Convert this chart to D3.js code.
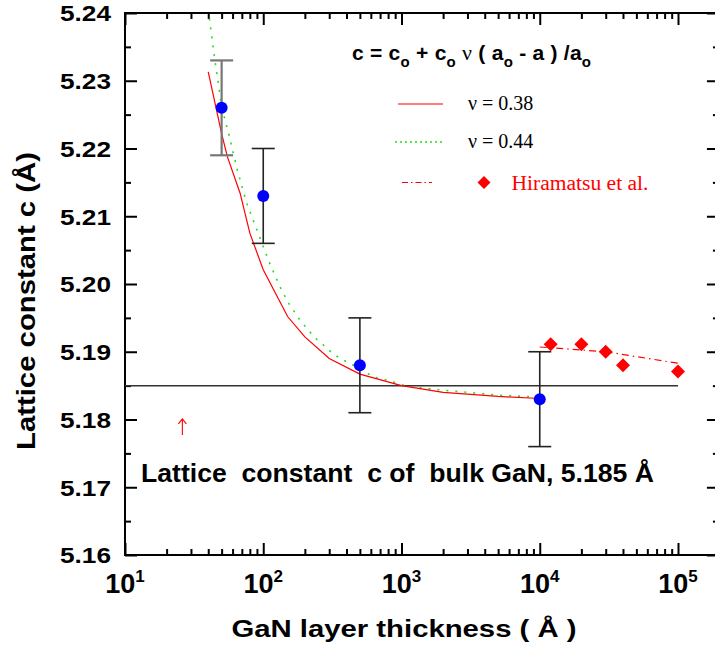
<!DOCTYPE html>
<html><head><meta charset="utf-8">
<script src="https://cdn.jsdelivr.net/npm/d3@7"></script>
<style>
html,body{margin:0;padding:0;background:#fff;}
svg{display:block;}
text{white-space:pre;}
</style></head>
<body>
<svg id="chart" width="715" height="652"></svg>
<script>
// ---- data ----
const measX = [50, 100, 500, 10000];
const measY = [5.226, 5.213, 5.188, 5.183];
const measErr = [0.007, 0.007, 0.007, 0.007];

const hiraX = [12000, 20000, 30000, 40000, 100000];
const hiraY = [5.1911, 5.1911, 5.1900, 5.1880, 5.1871];
const hiraFitX = [10000, 30000, 100000];
const hiraFitY = [5.1907, 5.1900, 5.1883];

const nu38X = [40, 50, 55, 68, 80, 100, 150, 200, 300, 500, 1000, 2000, 5000, 10000];
const nu38Y = [5.2313, 5.2222, 5.2188, 5.2134, 5.2075, 5.2021, 5.1952, 5.1922, 5.1890, 5.1867, 5.1850, 5.1840, 5.1834, 5.1831];

const nu44X = [40, 44, 50, 57, 65, 76, 90, 109, 132, 152, 184, 233, 272, 312, 359, 473, 624, 824, 1089, 1842, 5000, 10000];
const nu44Y = [5.2405, 5.2340, 5.2262, 5.2217, 5.2168, 5.2119, 5.2080, 5.2035, 5.1996, 5.1972, 5.1947, 5.1922, 5.1910, 5.1899, 5.1890, 5.1878, 5.1863, 5.1857, 5.1849, 5.1844, 5.1836, 5.1833];

const bulkC = 5.185;
const bulkRangeX = [10, 100000];

const xMajorTicks = [10, 100, 1000, 10000, 100000];
const xTickExponents = ["1", "2", "3", "4", "5"];
const yMajorTicks = [5.16, 5.17, 5.18, 5.19, 5.20, 5.21, 5.22, 5.23, 5.24];
const yMinorTicks = [5.165, 5.175, 5.185, 5.195, 5.205, 5.215, 5.225, 5.235];

const arrowX = 26, arrowYFrom = 5.1777, arrowYTo = 5.1801;

// ---- scales ----
const svg = d3.select("#chart");
const x = d3.scaleLog().domain([10, 1e5]).range([125, 678]);
const y = d3.scaleLinear().domain([5.16, 5.24]).range([555, 13]);
const xEnd = Math.pow(10, 5.296);
const L = x(10), R = x(xEnd), T = y(5.24), B = y(5.16);

const xMinor = [];
[10, 100, 1000, 10000, 100000].forEach(d => { for (let m = 2; m <= 9; m++) { const v = d * m; if (v < xEnd) xMinor.push(v); } });

const sans = "'Liberation Sans', Arial, Helvetica, sans-serif";
const serif = "'Liberation Serif', 'Times New Roman', serif";

svg.append("defs").append("clipPath").attr("id", "clip")
  .append("rect").attr("x", L).attr("y", T).attr("width", R - L).attr("height", B - T);

// ---- axes (inward ticks) ----
function styleAxis(g) {
  g.select(".domain").remove();
  g.selectAll(".tick line").attr("stroke", "#000").attr("stroke-width", 2);
}
svg.append("g").attr("transform", `translate(0,${B})`)
  .call(d3.axisBottom(x).tickValues(xMajorTicks).tickSize(-12).tickFormat(""))
  .call(styleAxis);
svg.append("g").attr("transform", `translate(0,${B})`)
  .call(d3.axisBottom(x).tickValues(xMinor).tickSize(-6).tickFormat(""))
  .call(styleAxis);
svg.append("g").attr("transform", `translate(0,${T})`)
  .call(d3.axisTop(x).tickValues(xMajorTicks).tickSize(-12).tickFormat(""))
  .call(styleAxis);
svg.append("g").attr("transform", `translate(0,${T})`)
  .call(d3.axisTop(x).tickValues(xMinor).tickSize(-6).tickFormat(""))
  .call(styleAxis);

const yAx = svg.append("g").attr("transform", `translate(${L},0)`)
  .call(d3.axisLeft(y).tickValues(yMajorTicks).tickSize(-12).tickPadding(14).tickFormat(d3.format(".2f")))
  .call(styleAxis);
yAx.selectAll(".tick text")
  .attr("font-family", sans).attr("font-weight", "bold").attr("font-size", 22)
  .attr("fill", "#000").attr("dy", "0.36em")
  .attr("textLength", 51).attr("lengthAdjust", "spacingAndGlyphs");
svg.append("g").attr("transform", `translate(${L},0)`)
  .call(d3.axisLeft(y).tickValues(yMinorTicks).tickSize(-6).tickFormat(""))
  .call(styleAxis);
svg.append("g").attr("transform", `translate(${R},0)`)
  .call(d3.axisRight(y).tickValues(yMajorTicks).tickSize(-12).tickFormat(""))
  .call(styleAxis);
svg.append("g").attr("transform", `translate(${R},0)`)
  .call(d3.axisRight(y).tickValues(yMinorTicks).tickSize(-6).tickFormat(""))
  .call(styleAxis);

// frame
svg.append("rect").attr("x", L).attr("y", T).attr("width", R - L).attr("height", B - T)
  .attr("fill", "none").attr("stroke", "#000").attr("stroke-width", 2);

// x tick labels with superscripts
const xl = svg.append("g").selectAll("text").data(xMajorTicks).join("text")
  .attr("x", d => x(d)).attr("y", B + 38)
  .attr("text-anchor", "middle")
  .attr("font-family", sans).attr("font-weight", "bold").attr("font-size", 27).attr("fill", "#000");
xl.append("tspan").text("10");
xl.append("tspan").attr("dy", -11).attr("font-size", 17).text((d, i) => xTickExponents[i]);

// axis titles
svg.append("text").attr("x", 404).attr("y", 637).attr("text-anchor", "middle")
  .attr("font-family", sans).attr("font-weight", "bold").attr("font-size", 23)
  .attr("textLength", 345).attr("lengthAdjust", "spacingAndGlyphs")
  .text("GaN layer thickness ( Å )");
svg.append("text").attr("transform", "translate(35,301) rotate(-90)").attr("text-anchor", "middle")
  .attr("font-family", sans).attr("font-weight", "bold").attr("font-size", 25)
  .attr("textLength", 298).attr("lengthAdjust", "spacingAndGlyphs")
  .text("Lattice constant c (Å)");

// bulk reference line
svg.append("line")
  .attr("x1", x(bulkRangeX[0])).attr("x2", x(bulkRangeX[1]))
  .attr("y1", y(bulkC)).attr("y2", y(bulkC))
  .attr("stroke", "#333").attr("stroke-width", 1.5);

// curves
const plot = svg.append("g").attr("clip-path", "url(#clip)");
const line = d3.line().x(d => x(d[0])).y(d => y(d[1]));
plot.append("path").datum(nu44X.map((v, i) => [v, nu44Y[i]]))
  .attr("d", line).attr("fill", "none").attr("stroke", "#22dd22")
  .attr("stroke-width", 1.6).attr("stroke-dasharray", "2,7");
plot.append("path").datum(nu38X.map((v, i) => [v, nu38Y[i]]))
  .attr("d", line).attr("fill", "none").attr("stroke", "#ff0000").attr("stroke-width", 1.2);
plot.append("path").datum(hiraFitX.map((v, i) => [v, hiraFitY[i]]))
  .attr("d", line).attr("fill", "none").attr("stroke", "#ff0000")
  .attr("stroke-width", 1.2).attr("stroke-dasharray", "7,4,1.5,4");

// error bars
const eb = svg.append("g").selectAll("g").data(measX).join("g")
  .attr("stroke", (d, i) => i === 0 ? "#777" : "#222")
  .attr("stroke-width", (d, i) => i === 0 ? 2.2 : 1.6);
eb.append("line").attr("x1", d => x(d)).attr("x2", d => x(d))
  .attr("y1", (d, i) => y(measY[i] - measErr[i])).attr("y2", (d, i) => y(measY[i] + measErr[i]));
eb.append("line").attr("x1", d => x(d) - 11.5).attr("x2", d => x(d) + 11.5)
  .attr("y1", (d, i) => y(measY[i] + measErr[i])).attr("y2", (d, i) => y(measY[i] + measErr[i]));
eb.append("line").attr("x1", d => x(d) - 11.5).attr("x2", d => x(d) + 11.5)
  .attr("y1", (d, i) => y(measY[i] - measErr[i])).attr("y2", (d, i) => y(measY[i] - measErr[i]));

// measured points
svg.append("g").selectAll("circle").data(measX).join("circle")
  .attr("cx", d => x(d)).attr("cy", (d, i) => y(measY[i])).attr("r", 6).attr("fill", "#0000ff");

// Hiramatsu diamonds
const diamond = d3.symbol().type(d3.symbolSquare).size(98);
svg.append("g").selectAll("path").data(hiraX).join("path")
  .attr("d", diamond)
  .attr("transform", (d, i) => `translate(${x(d)},${y(hiraY[i])}) rotate(45)`)
  .attr("fill", "#ff0000");

// arrow marker
const ax = x(arrowX), ay0 = y(arrowYFrom), ay1 = y(arrowYTo);
svg.append("path")
  .attr("d", `M${ax},${ay0}L${ax},${ay1}M${ax - 4},${ay1 + 5}L${ax},${ay1}L${ax + 4},${ay1 + 5}`)
  .attr("fill", "none").attr("stroke", "#ff0000").attr("stroke-width", 1.1);

// annotation
svg.append("text").attr("x", 141).attr("y", 481.5)
  .attr("font-family", sans).attr("font-weight", "bold").attr("font-size", 25)
  .attr("textLength", 513).attr("lengthAdjust", "spacingAndGlyphs")
  .text("Lattice  constant  c of  bulk GaN, 5.185 Å");

// legend title (formula)
const f = svg.append("text").attr("x", 352).attr("y", 60)
  .attr("font-family", sans).attr("font-weight", "bold").attr("font-size", 21).attr("fill", "#000")
  .attr("textLength", 239).attr("lengthAdjust", "spacing");
function sub(t) { f.append("tspan").attr("dy", 7).attr("font-size", 15).text(t); }
function norm(t, dy) { const s = f.append("tspan").text(t); if (dy) s.attr("dy", dy); return s; }
norm("c = c"); sub("o"); norm(" + c", -7); sub("o"); norm(" ", -7);
f.append("tspan").attr("font-family", serif).attr("font-weight", "normal").attr("font-size", 22).text("ν");
norm(" ( a"); sub("o"); norm(" - a ) /a", -7); sub("o");

// legend entries
const lg = svg.append("g");
lg.append("line").attr("x1", 398).attr("x2", 443).attr("y1", 104).attr("y2", 104)
  .attr("stroke", "#ff0000").attr("stroke-width", 1.2);
lg.append("text").attr("x", 468).attr("y", 110).attr("font-family", serif).attr("font-size", 20).text("ν = 0.38");
lg.append("line").attr("x1", 395).attr("x2", 445).attr("y1", 142).attr("y2", 142)
  .attr("stroke", "#22dd22").attr("stroke-width", 1.6).attr("stroke-dasharray", "2,3");
lg.append("text").attr("x", 468).attr("y", 148).attr("font-family", serif).attr("font-size", 20).text("ν = 0.44");
lg.append("line").attr("x1", 402).attr("x2", 432).attr("y1", 182.5).attr("y2", 182.5)
  .attr("stroke", "#ff0000").attr("stroke-width", 1.2).attr("stroke-dasharray", "6,3,1.5,3");
lg.append("path").attr("d", d3.symbol().type(d3.symbolSquare).size(84))
  .attr("transform", "translate(484,182.5) rotate(45)").attr("fill", "#ff0000");
lg.append("text").attr("x", 511.5).attr("y", 189.5).attr("font-family", serif).attr("font-size", 20)
  .attr("fill", "#ff0000").attr("textLength", 137).attr("lengthAdjust", "spacingAndGlyphs").text("Hiramatsu et al.");
</script>
</body></html>
